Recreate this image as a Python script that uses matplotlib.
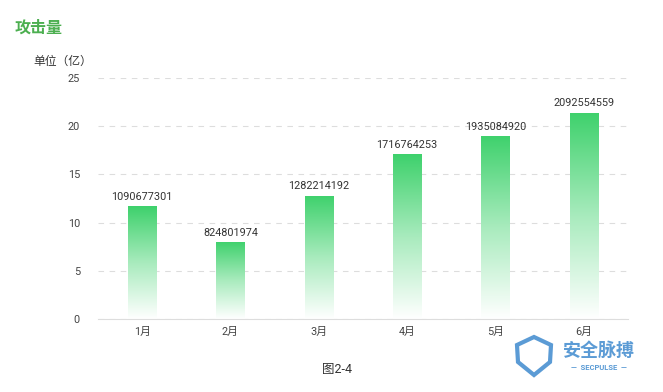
import numpy as np
import matplotlib.pyplot as plt
from matplotlib.colors import LinearSegmentedColormap
from matplotlib.patches import Polygon

plt.rcParams['font.family'] = ['Roboto', 'Noto Sans CJK SC', 'DejaVu Sans']

months = ["1月", "2月", "3月", "4月", "5月", "6月"]
# bar heights as drawn (unit: 亿)
heights = [11.7, 8.0, 12.8, 17.1, 19.0, 21.4]
# labels printed above the bars
labels = ["1090677301", "824801974", "1282214192", "1716764253", "1935084920", "2092554559"]
yticks = [0, 5, 10, 15, 20, 25]

fig = plt.figure(figsize=(6.63, 3.92), dpi=100)
ax = fig.add_axes([98 / 663, 1 - 319 / 392, 530 / 663, 241 / 392])

cmap = LinearSegmentedColormap.from_list("g", ["#ffffff", "#a8ebbd", "#3ed16c"])
grad = np.linspace(0, 1, 256).reshape(-1, 1)
x = np.arange(len(months))
bars = ax.bar(x, heights, width=0.32, color="none", zorder=2)
for b, lab in zip(bars, labels):
    x0, w, h = b.get_x(), b.get_width(), b.get_height()
    im = ax.imshow(grad, extent=[x0, x0 + w, 0, h], origin="lower", cmap=cmap,
                   aspect="auto", zorder=2, vmin=0, vmax=1)
    im.set_clip_path(b)
    ax.text(x0 + w / 2, h + 0.45, lab, ha="center", va="bottom", fontsize=7.8, color="#333333")

ax.set_xlim(-0.5, len(months) - 0.5)
ax.set_ylim(0, 25)
ax.set_xticks(x)
ax.set_xticklabels(months)
ax.set_yticks(yticks)
ax.tick_params(axis="both", length=0, labelsize=7.8, colors="#444444")
ax.tick_params(axis="x", pad=6)
ax.tick_params(axis="y", pad=13)
ax.grid(axis="y", color="#dddddd", linestyle=(0, (5, 5)), linewidth=0.8, zorder=0)
for s in ["top", "right", "left"]:
    ax.spines[s].set_visible(False)
ax.spines["bottom"].set_color("#dddddd")

fig.text(15 / 663, 1 - 28 / 392, "攻击量", fontsize=11.5, fontweight="bold", color="#4caf50", va="center")
fig.text(33 / 663, 1 - 61 / 392, "单位（亿）", fontsize=8.5, color="#333333", va="center")
fig.text(337 / 663, 1 - 369 / 392, "图2-4", fontsize=9, color="#333333", ha="center", va="center")

# watermark
blue = "#5b9bd5"
shield = [(517, 345), (534, 337), (551, 345), (550, 362), (534, 375), (518, 362)]
fig.patches.append(Polygon([(px / 663, 1 - py / 392) for px, py in shield], closed=True,
                           transform=fig.transFigure, facecolor="none", edgecolor=blue, linewidth=3))
fig.text(599 / 663, 1 - 351 / 392, "安全脉搏", fontsize=13, fontweight="bold", color=blue, ha="center", va="center")
fig.text(599 / 663, 1 - 368 / 392, "—  SECPULSE  —", fontsize=5.5, fontweight="bold", color=blue, ha="center", va="center")

fig.savefig("out.png", dpi=100)
